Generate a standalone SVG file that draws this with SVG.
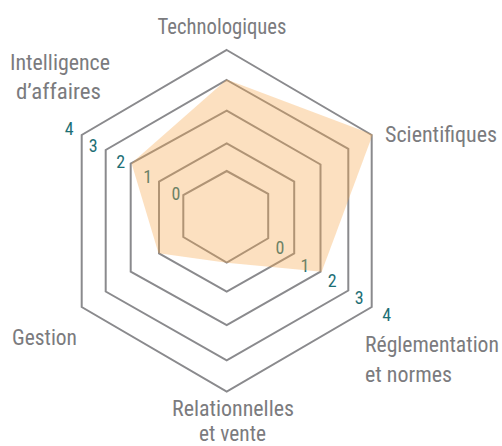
<svg xmlns="http://www.w3.org/2000/svg" width="502" height="446" viewBox="0 0 502 446">
<style>
.ring{fill:none;stroke:#8a8a8d;stroke-width:2;stroke-linejoin:miter}
.lab{font-family:"Liberation Sans Narrow","Roboto Condensed","DejaVu Sans Condensed","Liberation Sans",sans-serif;font-size:22px;fill:#7b7b7e}
.num{font-family:"Liberation Sans Narrow","Roboto Condensed","DejaVu Sans Condensed","Liberation Sans",sans-serif;font-size:18px;fill:#1d6f75;text-anchor:middle}
.data{fill:#f5a54a;fill-opacity:0.35;stroke:none}
</style>
<rect width="502" height="446" fill="#ffffff"/>
<g id="grid">
<polygon id="ring4" class="ring" points="226.7,50 371.7,135 371.7,307 226.7,391.7 81.7,307 81.7,135"/>
<polygon id="ring3" class="ring" points="226.7,80 348.3,148.8 348.3,290.5 226.7,360.3 105.7,291.5 105.7,150"/>
<polygon id="ring2" class="ring" points="226.7,110.7 320.5,164.5 320.5,271.7 226.7,325 130.7,271.7 130.7,163.5"/>
<polygon id="ring1" class="ring" points="226.7,143.3 294.2,181.7 294.2,253.3 226.7,291.7 159,253.3 159,181.7"/>
<polygon id="ring0" class="ring" points="226.7,171 268.2,193.8 268.2,238.3 226.7,262.7 183.3,237 183.3,195"/>
</g>
<g id="scale">
<text class="num" x="69.3" y="134.8">4</text>
<text class="num" x="93.3" y="151.5">3</text>
<text class="num" x="120.7" y="168">2</text>
<text class="num" x="147.7" y="183">1</text>
<text class="num" x="176" y="200">0</text>
<text class="num" x="280" y="254">0</text>
<text class="num" x="305" y="271.5">1</text>
<text class="num" x="332.3" y="287">2</text>
<text class="num" x="359.3" y="303.8">3</text>
<text class="num" x="386.7" y="320.5">4</text>
</g>
<g id="data">
<polygon class="data" points="226.7,79.5 372.7,134.5 321.7,271.7 226.7,262.7 158.5,253.3 131.5,163.3"/>
</g>
<g id="technologiques"><text class="lab" x="157.5" y="33.5" textLength="129" lengthAdjust="spacingAndGlyphs">Technologiques</text></g>
<g id="scientifiques"><text class="lab" x="385" y="141.7" textLength="112" lengthAdjust="spacingAndGlyphs">Scientifiques</text></g>
<g id="reglementation"><text class="lab" x="365" y="352" textLength="134" lengthAdjust="spacingAndGlyphs">Réglementation</text><text class="lab" x="365" y="382" textLength="87" lengthAdjust="spacingAndGlyphs">et normes</text></g>
<g id="relationnelles"><text class="lab" x="172" y="415.5" textLength="122" lengthAdjust="spacingAndGlyphs">Relationnelles</text><text class="lab" x="199" y="441" textLength="67" lengthAdjust="spacingAndGlyphs">et vente</text></g>
<g id="gestion"><text class="lab" x="12" y="345" textLength="65" lengthAdjust="spacingAndGlyphs">Gestion</text></g>
<g id="intelligence"><text class="lab" x="10" y="70" textLength="100" lengthAdjust="spacingAndGlyphs">Intelligence</text><text class="lab" x="16" y="98.5" textLength="85" lengthAdjust="spacingAndGlyphs">d’affaires</text></g>
</svg>
